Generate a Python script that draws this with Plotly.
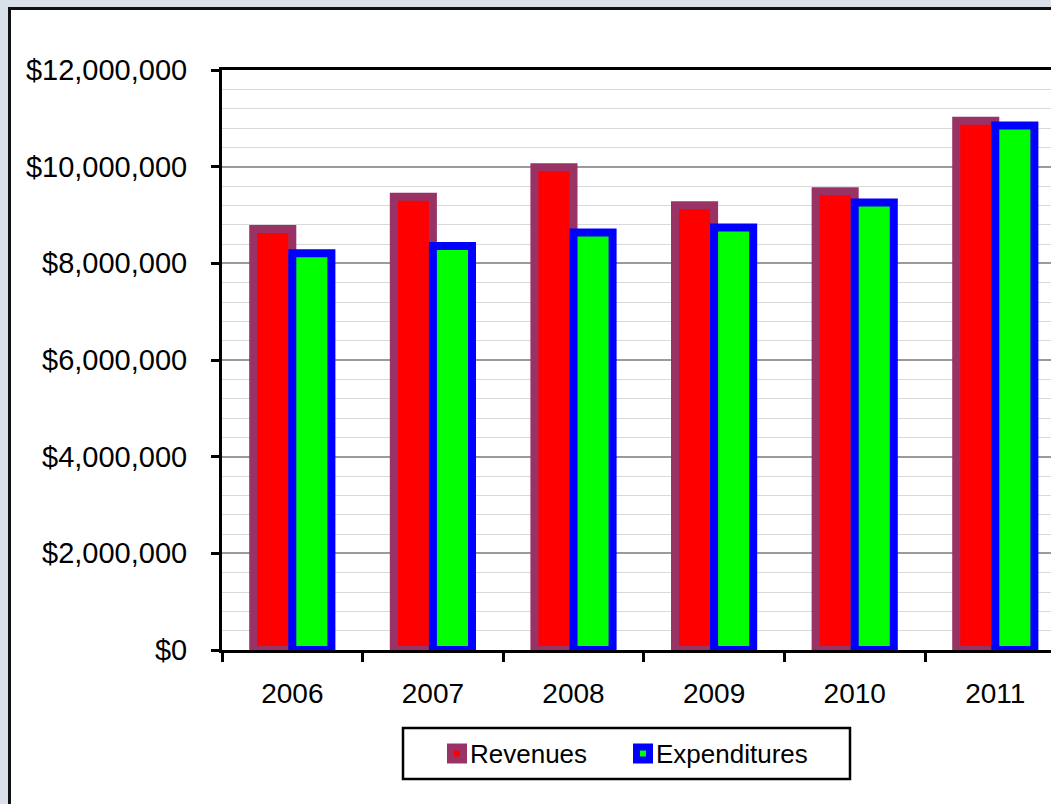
import plotly.graph_objects as go

# Annual totals in dollars
years = ["2006", "2007", "2008", "2009", "2010", "2011"]
revenues = [8710000, 9380000, 9990000, 9200000, 9490000, 10950000]
expenditures = [8210000, 8360000, 8640000, 8740000, 9260000, 10850000]

series_names = ["Revenues", "Expenditures"]
fill_colors = ["#ff0000", "#00ff00"]
edge_colors = ["#993366", "#0000ff"]

y_ticks = [0, 2000000, 4000000, 6000000, 8000000, 10000000, 12000000]

# Canvas and plot-area geometry (pixels)
W, H = 1051, 804
L, T, B, R = 222, 70, 154, 0
plot_w = W - L - R
plot_h = H - T - B
cat_px = 140.6                      # width of one year slot
x_span = plot_w / cat_px            # visible number of slots


def px_x(px):
    return (px - L) / plot_w


def px_y(py):
    return (T + plot_h - py) / plot_h


font_family = "Liberation Sans, Arial, sans-serif"

fig = go.Figure()
for name, vals, fc, ec in zip(series_names, [revenues, expenditures],
                              fill_colors, edge_colors):
    fig.add_bar(
        x=years, y=vals, name=name,
        marker=dict(color=fc, line=dict(color=ec, width=8)),
    )

# White chart panel with a dark frame
shapes = [
    dict(type="rect", xref="paper", yref="paper", layer="below",
         x0=px_x(9.5), x1=px_x(W + 30), y0=px_y(H + 30), y1=px_y(8.5),
         fillcolor="white", line=dict(color="#111111", width=3)),
]

# Legend box below the axis, drawn from the series lists
legend_box = (403, 850, 728, 779)          # left, right, top, bottom
swatch_left = [447, 633]
swatch_size = 20
core_size = 6
mid_y = (legend_box[2] + legend_box[3]) / 2

shapes.append(dict(
    type="rect", xref="paper", yref="paper", layer="above",
    x0=px_x(legend_box[0]), x1=px_x(legend_box[1]),
    y0=px_y(legend_box[3]), y1=px_y(legend_box[2]),
    fillcolor="white", line=dict(color="black", width=2.5),
))

annotations = []
for name, fc, ec, sx in zip(series_names, fill_colors, edge_colors, swatch_left):
    shapes.append(dict(
        type="rect", xref="paper", yref="paper", layer="above",
        x0=px_x(sx), x1=px_x(sx + swatch_size),
        y0=px_y(mid_y + swatch_size / 2), y1=px_y(mid_y - swatch_size / 2),
        fillcolor=ec, line=dict(width=0),
    ))
    cx = sx + swatch_size / 2
    shapes.append(dict(
        type="rect", xref="paper", yref="paper", layer="above",
        x0=px_x(cx - core_size / 2), x1=px_x(cx + core_size / 2),
        y0=px_y(mid_y + core_size / 2), y1=px_y(mid_y - core_size / 2),
        fillcolor=fc, line=dict(width=0),
    ))
    annotations.append(dict(
        xref="paper", yref="paper",
        x=px_x(sx + swatch_size + 2), y=px_y(mid_y),
        xanchor="left", yanchor="middle",
        text=name, showarrow=False,
        font=dict(family=font_family, size=26, color="black"),
        borderpad=0,
    ))

fig.update_layout(
    width=W, height=H,
    margin=dict(l=L, r=R, t=T, b=B, autoexpand=False),
    paper_bgcolor="#d9e0ea",
    plot_bgcolor="white",
    barmode="group",
    bargap=0.444,
    bargroupgap=0,
    font=dict(family=font_family, size=27, color="black"),
    showlegend=False,
    shapes=shapes,
    annotations=annotations,
)

fig.update_xaxes(
    type="category",
    range=[-0.5, -0.5 + x_span],
    tickson="boundaries",
    ticks="outside", ticklen=9, tickwidth=3, tickcolor="black",
    tickfont=dict(family=font_family, size=28, color="black"),
    ticklabelstandoff=16,
    showline=True, linewidth=3, linecolor="black", mirror=True,
    showgrid=False,
    fixedrange=True,
)

fig.update_yaxes(
    range=[0, 12000000],
    tickvals=y_ticks,
    tickformat="$,.0f",
    ticks="outside", ticklen=8, tickwidth=3, tickcolor="black",
    tickfont=dict(family=font_family, size=29, color="black"),
    ticklabelstandoff=18,
    showline=True, linewidth=3, linecolor="black",
    showgrid=True, gridcolor="#9a9a9a", gridwidth=1.5,
    minor=dict(dtick=400000, showgrid=True, gridcolor="#d9d9d9", gridwidth=1),
    zeroline=False,
    fixedrange=True,
)

fig.write_html("out.html")
